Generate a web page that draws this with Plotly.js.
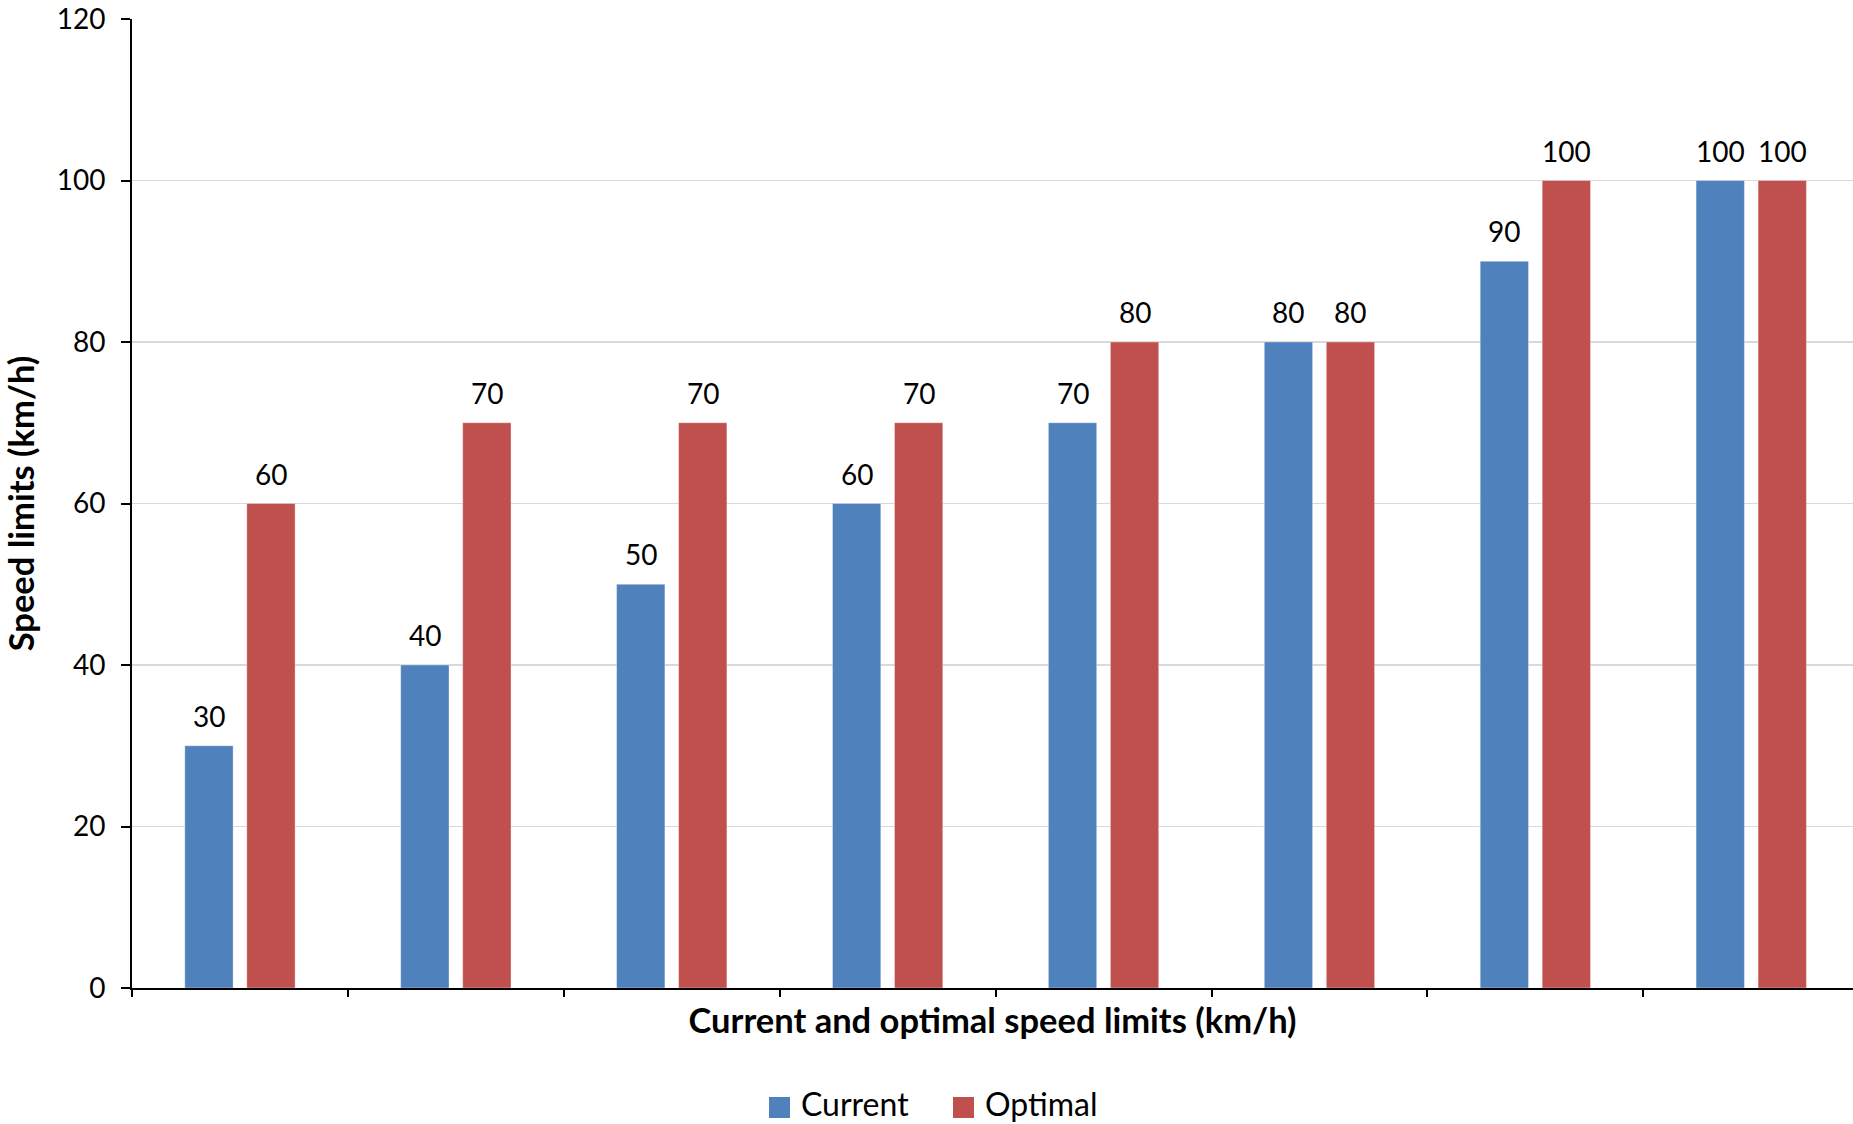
<!DOCTYPE html>
<html>
<head>
<meta charset="utf-8">
<script src="https://cdn.plot.ly/plotly-3.0.1.min.js"></script>
<style>
  html, body { margin: 0; padding: 0; background: #ffffff; }
  #chart { width: 1853px; height: 1124px; }
</style>
</head>
<body>
<div id="chart"></div>
<script>
// Road groups (no labels are shown on the category axis)
const categories = ['G1', 'G2', 'G3', 'G4', 'G5', 'G6', 'G7', 'G8'];
const seriesNames = ['Current', 'Optimal'];
const currentLimits = [30, 40, 50, 60, 70, 80, 90, 100];
const optimalLimits = [60, 70, 70, 70, 80, 80, 100, 100];
const yTickValues = [0, 20, 40, 60, 80, 100, 120];

const BLUE = '#4F81BD';
const RED = '#C0504D';
const NUM_FONT = 'Lato, "Open Sans", sans-serif';

const W = 1853, H = 1124;
const margin = { l: 132, r: 0, t: 19, b: 136 };
const plotW = W - margin.l - margin.r;
const plotH = H - margin.t - margin.b;
const catPx = 215.9; // width of one category slot in px
const xMax = -0.5 + plotW / catPx;

const traces = [
  {
    type: 'bar', name: seriesNames[0], x: categories, y: currentLimits,
    marker: { color: BLUE, line: { color: 'rgba(255,255,255,0.35)', width: 1 } },
    showlegend: false, hoverinfo: 'x+y'
  },
  {
    type: 'bar', name: seriesNames[1], x: categories, y: optimalLimits,
    marker: { color: RED, line: { color: 'rgba(255,255,255,0.35)', width: 1 } },
    showlegend: false, hoverinfo: 'x+y'
  }
];

// Value labels above each bar
const annotations = [];
const groups = [[currentLimits, -31], [optimalLimits, 31]];
groups.forEach(([vals, dx]) => {
  vals.forEach((v, i) => {
    annotations.push({
      x: i, y: v, xref: 'x', yref: 'y',
      text: String(v), showarrow: false,
      xanchor: 'center', yanchor: 'middle',
      xshift: dx, yshift: 30,
      font: { family: NUM_FONT, size: 28, color: '#000000' }
    });
  });
});

// Legend drawn below the axis title
const px2x = p => (p - margin.l) / plotW;
const py2y = p => (margin.t + plotH - p) / plotH;
const shapes = [];
const legendItems = [
  { name: seriesNames[0], color: BLUE, sq: 769, txt: 799 },
  { name: seriesNames[1], color: RED, sq: 953, txt: 983 }
];
legendItems.forEach(it => {
  shapes.push({
    type: 'rect', xref: 'paper', yref: 'paper',
    x0: px2x(it.sq), x1: px2x(it.sq + 21),
    y0: py2y(1118), y1: py2y(1097),
    fillcolor: it.color, line: { width: 0 }
  });
  annotations.push({
    xref: 'paper', yref: 'paper', x: px2x(it.txt), y: py2y(1103),
    xanchor: 'left', yanchor: 'middle', showarrow: false,
    text: it.name,
    font: { family: NUM_FONT, size: 32, color: '#000000' }
  });
});

const layout = {
  width: W, height: H,
  margin: margin,
  paper_bgcolor: '#ffffff', plot_bgcolor: '#ffffff',
  barmode: 'group', bargap: 0.4257, bargroupgap: 0.221,
  showlegend: false,
  xaxis: {
    type: 'category', range: [-0.5, xMax],
    showticklabels: false, showgrid: false, zeroline: false,
    showline: true, linecolor: '#000000', linewidth: 2,
    ticks: 'outside', tickson: 'boundaries', ticklen: 7, tickwidth: 2, tickcolor: '#000000',
    title: {
      text: 'Current and optimal speed limits (km/h)',
      font: { family: NUM_FONT, size: 34.5, color: '#000000', weight: 'bold' },
      standoff: 20
    }
  },
  yaxis: {
    range: [0, 120], tickvals: yTickValues, ticktext: yTickValues.map(String),
    showgrid: true, gridcolor: '#d9d9d9', gridwidth: 1.3,
    zeroline: false, showline: true, linecolor: '#000000', linewidth: 2,
    ticks: 'outside', ticklen: 9, tickwidth: 2, tickcolor: '#000000',
    ticklabelstandoff: 10,
    tickfont: { family: NUM_FONT, size: 28, color: '#000000' },
    title: {
      text: 'Speed limits (km/h)',
      font: { family: NUM_FONT, size: 34.5, color: '#000000', weight: 'bold' },
      standoff: 18
    }
  },
  annotations: annotations,
  shapes: shapes
};

Plotly.newPlot('chart', traces, layout, { displayModeBar: false, staticPlot: true });
</script>
</body>
</html>
